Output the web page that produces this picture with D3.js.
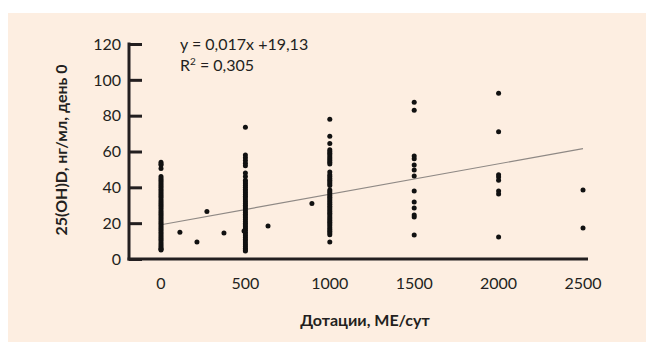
<!DOCTYPE html>
<html>
<head>
<meta charset="utf-8">
<script src="https://cdn.jsdelivr.net/npm/d3@7"></script>
<style>
  body { margin: 0; background: #fff; }
  svg { display: block; }
</style>
</head>
<body>
<div id="chart"></div>
<script>
// DATA
const columnDoses = [0, 500, 1000, 1500, 2000, 2500];
const levels0 = [54, 53, 52.5, 50.5, 46, 45, 44, 43, 42, 41, 40, 39, 38, 37, 36, 35, 34, 33, 32, 31, 30, 29, 28, 27, 26, 25, 24, 23, 22, 21, 20, 19, 18, 17, 16, 15, 14, 13, 12, 11, 10, 9, 8, 7, 6, 5.5, 5];
const levels500 = [73.5, 58, 56.5, 55, 53.5, 52, 48, 46, 44, 43, 42, 41, 40, 39, 38, 37, 36, 35, 34, 33, 32, 31, 30, 29, 28, 27, 26, 25, 24, 23, 22, 21, 20, 19, 18, 17, 16, 15, 14, 13, 12, 11, 10, 9, 8, 7, 6, 5, 4.5];
const levels1000 = [78, 68.5, 64.5, 61, 60, 59, 58, 57, 56, 55, 54, 53, 48.5, 47, 46, 45, 44, 43, 42, 41, 38.5, 37.5, 36.5, 35.5, 34.5, 33.5, 32.5, 31.5, 30.5, 29.5, 28.5, 27.5, 26.5, 25.5, 24.5, 23.5, 22.5, 21.5, 20.5, 19.5, 18.5, 17.5, 16.5, 15.5, 14.5, 13.5, 9.5];
const levels1500 = [87.5, 83, 57.5, 56, 52.5, 49.7, 46.3, 38, 31.8, 28.5, 24.5, 23.4, 13.4];
const levels2000 = [92.5, 71, 47, 45.8, 44, 38, 36.3, 12.3];
const levels2500 = [38.5, 17.3];
const otherDoses = [112, 213, 272, 373, 492, 634, 894];
const otherLevels = [15, 9.5, 26.5, 14.5, 15.6, 18.4, 31];

const yTicks = [0, 20, 40, 60, 80, 100, 120];
const xTicks = [0, 500, 1000, 1500, 2000, 2500];
const slope = 0.017, intercept = 19.13;
const equationText = "y = 0,017x +19,13";
const r2Value = "0,305";
const xTitle = "Дотации, МЕ/сут";
const yTitle = "25(OH)D, нг/мл, день 0";

// build point list
const columns = [levels0, levels500, levels1000, levels1500, levels2000, levels2500];
let points = [];
columns.forEach((col, i) => {
    for (let v of col) points.push({dose: columnDoses[i], level: v});
});
otherDoses.forEach((d, i) => points.push({dose: d, level: otherLevels[i]}));

// DRAWING SETUP
const W = 646, H = 344;
const ink = "#231f20";

const svg = d3.select("#chart").append("svg")
    .attr("width", W)
    .attr("height", H);

svg.append("rect")
    .attr("x", 8).attr("y", 13)
    .attr("width", W - 8).attr("height", 329)
    .attr("fill", "#fdeee1");

const x = d3.scaleLinear().domain([0, 2500]).range([161, 583]);
const y = d3.scaleLinear().domain([0, 120]).range([259, 44]);

const g = svg.append("g")
    .attr("font-family", "Lato, 'Open Sans', sans-serif")
    .attr("fill", ink);

// regression line
g.append("line")
    .attr("x1", x(0)).attr("y1", y(intercept))
    .attr("x2", x(2500)).attr("y2", y(slope * 2500 + intercept))
    .attr("stroke", "#8f8985")
    .attr("stroke-width", 1.2);

// points
g.selectAll(".dot")
    .data(points)
    .enter().append("circle")
    .attr("class", "dot")
    .attr("cx", d => x(d.dose))
    .attr("cy", d => y(d.level))
    .attr("r", 2.5)
    .attr("fill", "#111");

// y axis (ticks pointing inwards)
const yAxis = g.append("g")
    .attr("transform", `translate(${129},0)`)
    .call(d3.axisRight(y).tickValues(yTicks).tickSize(13).tickFormat(""));
yAxis.select(".domain").remove();
yAxis.selectAll("line").attr("stroke", ink).attr("stroke-width", 3);

g.append("line")
    .attr("x1", 129).attr("x2", 129)
    .attr("y1", y(120) - 1.5).attr("y2", y(0) + 1.5)
    .attr("stroke", ink).attr("stroke-width", 3);

g.append("line")
    .attr("x1", 127.5).attr("x2", 588)
    .attr("y1", y(0)).attr("y2", y(0))
    .attr("stroke", ink).attr("stroke-width", 3);

g.selectAll(".ylab")
    .data(yTicks)
    .enter().append("text")
    .attr("class", "ylab")
    .attr("x", 121)
    .attr("y", d => y(d))
    .attr("dy", "0.36em")
    .attr("text-anchor", "end")
    .attr("font-size", 16)
    .text(d => d);

g.selectAll(".xlab")
    .data(xTicks)
    .enter().append("text")
    .attr("class", "xlab")
    .attr("x", d => x(d))
    .attr("y", 289)
    .attr("text-anchor", "middle")
    .attr("font-size", 16)
    .text(d => d);

// equation
g.append("text")
    .attr("x", 180).attr("y", 50)
    .attr("font-size", 16)
    .text(equationText);
const r2 = g.append("text")
    .attr("x", 180).attr("y", 71)
    .attr("font-size", 16);
r2.append("tspan").text("R");
r2.append("tspan").attr("font-size", 10).attr("dy", -6).text("2");
r2.append("tspan").attr("dy", 6).text(" = " + r2Value);

// axis titles
g.append("text")
    .attr("x", 365).attr("y", 326)
    .attr("text-anchor", "middle")
    .attr("font-size", 16)
    .attr("font-weight", "bold")
    .text(xTitle);

g.append("text")
    .attr("transform", "translate(67,150) rotate(-90)")
    .attr("text-anchor", "middle")
    .attr("font-size", 16)
    .attr("font-weight", "bold")
    .text(yTitle);
</script>
</body>
</html>
